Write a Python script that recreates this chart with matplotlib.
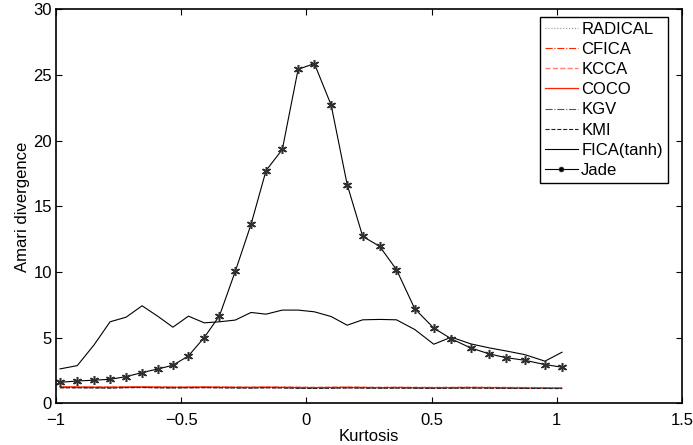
import numpy as np
import matplotlib.pyplot as plt

plt.rcParams['font.family'] = ['Liberation Sans', 'DejaVu Sans']
plt.rcParams['font.size'] = 12

kurtosis = [-0.984, -0.915, -0.848, -0.784, -0.72, -0.656, -0.592, -0.533, -0.471, -0.408,
            -0.347, -0.284, -0.221, -0.161, -0.096, -0.033, 0.032, 0.099, 0.163, 0.225,
            0.293, 0.36, 0.433, 0.509, 0.579, 0.656, 0.731, 0.797, 0.872, 0.953, 1.021]

jade = [1.60, 1.70, 1.76, 1.83, 2.03, 2.34, 2.62, 2.90, 3.61, 5.01,
        6.67, 10.05, 13.63, 17.73, 19.34, 25.44, 25.88, 22.72, 16.66, 12.72,
        11.95, 10.18, 7.20, 5.73, 4.91, 4.22, 3.76, 3.48, 3.28, 2.95, 2.75]

fica = [2.62, 2.87, 4.45, 6.21, 6.56, 7.43, 6.61, 5.80, 6.64, 6.13,
        6.21, 6.34, 6.92, 6.79, 7.10, 7.10, 6.97, 6.61, 5.95, 6.36,
        6.39, 6.36, 5.62, 4.50, 5.04, 4.53, 4.22, 3.99, 3.71, 3.21, 3.89]

radical = [1.22, 1.21, 1.20, 1.19, 1.21, 1.22, 1.20, 1.19, 1.20, 1.21, 1.20, 1.19, 1.18, 1.20, 1.19, 1.18,
           1.17, 1.18, 1.19, 1.18, 1.17, 1.18, 1.17, 1.16, 1.17, 1.18, 1.17, 1.16, 1.15, 1.15, 1.14]
cfica = [1.25, 1.24, 1.23, 1.22, 1.24, 1.25, 1.23, 1.22, 1.23, 1.24, 1.23, 1.22, 1.21, 1.23, 1.22, 1.21,
         1.20, 1.21, 1.22, 1.21, 1.20, 1.21, 1.20, 1.19, 1.20, 1.21, 1.20, 1.19, 1.18, 1.17, 1.16]
kcca = [1.27, 1.26, 1.25, 1.24, 1.26, 1.27, 1.25, 1.24, 1.25, 1.26, 1.25, 1.24, 1.23, 1.25, 1.24, 1.23,
        1.22, 1.23, 1.24, 1.23, 1.22, 1.23, 1.22, 1.21, 1.22, 1.23, 1.22, 1.21, 1.20, 1.19, 1.18]
coco = [1.24, 1.23, 1.22, 1.22, 1.23, 1.24, 1.23, 1.22, 1.22, 1.23, 1.22, 1.21, 1.21, 1.22, 1.21, 1.20,
        1.19, 1.20, 1.21, 1.20, 1.19, 1.20, 1.19, 1.18, 1.19, 1.20, 1.19, 1.18, 1.17, 1.16, 1.16]
kgv = [1.20, 1.19, 1.18, 1.18, 1.20, 1.21, 1.19, 1.18, 1.19, 1.20, 1.19, 1.18, 1.17, 1.19, 1.18, 1.16,
       1.15, 1.16, 1.18, 1.17, 1.16, 1.17, 1.16, 1.15, 1.16, 1.17, 1.16, 1.15, 1.14, 1.14, 1.13]
kmi = [1.18, 1.18, 1.17, 1.16, 1.19, 1.20, 1.18, 1.17, 1.18, 1.19, 1.18, 1.17, 1.16, 1.18, 1.17, 1.14,
       1.13, 1.15, 1.17, 1.16, 1.15, 1.16, 1.15, 1.14, 1.15, 1.16, 1.15, 1.14, 1.13, 1.13, 1.12]

fig = plt.figure(figsize=(6.93, 4.45), dpi=100)
ax = fig.add_axes([0.0808, 0.0937, 0.9032, 0.885])

ax.plot(kurtosis, radical, ':', color='#909090', lw=0.8, label='RADICAL')
ax.plot(kurtosis, cfica, '-.', color='#ff2200', lw=0.8, label='CFICA')
ax.plot(kurtosis, kcca, '--', color='#ff8070', lw=1.0, label='KCCA')
ax.plot(kurtosis, coco, '-', color='#ff2200', lw=0.9, label='COCO')
ax.plot(kurtosis, kgv, '-.', color='#555555', lw=0.8, label='KGV')
ax.plot(kurtosis, kmi, '--', color='#222222', lw=0.8, label='KMI')
ax.plot(kurtosis, fica, '-', color='black', lw=0.8, label='FICA(tanh)')
ax.plot(kurtosis, jade, '-', color='black', lw=0.8, marker=(6, 2, 0), markersize=6.5,
        markeredgecolor='#303030', markeredgewidth=1.1, label='Jade')

ax.set_xlim(-1, 1.5)
ax.set_ylim(0, 30)
ax.set_xticks([-1, -0.5, 0, 0.5, 1, 1.5])
ax.set_xticklabels(['\u22121', '\u22120.5', '0', '0.5', '1', '1.5'])
ax.set_yticks([0, 5, 10, 15, 20, 25, 30])
ax.tick_params(direction='in', top=True, right=True, length=4, width=0.8, labelsize=12)
ax.tick_params(axis='x', pad=7)
ax.tick_params(axis='y', pad=3)
for s in ax.spines.values():
    s.set_linewidth(1.2)
ax.set_xlabel('Kurtosis', fontsize=12, labelpad=1)
ax.set_ylabel('Amari divergence', fontsize=12, labelpad=2)

leg = ax.legend(loc='upper right', bbox_to_anchor=(0.9776, 0.9817), borderaxespad=0,
                fancybox=False, edgecolor='black', framealpha=1, fontsize=12,
                handlelength=2.0, handletextpad=0.2, labelspacing=0.31, borderpad=0.3)
leg.get_frame().set_linewidth(1.0)
# legend shows Jade with a small dot marker
jade_handle = leg.legend_handles[-1]
jade_handle.set_marker('o')
jade_handle.set_markersize(3.5)
jade_handle.set_markeredgewidth(0.5)
jade_handle.set_markerfacecolor('black')

fig.savefig('out.png', dpi=100)
